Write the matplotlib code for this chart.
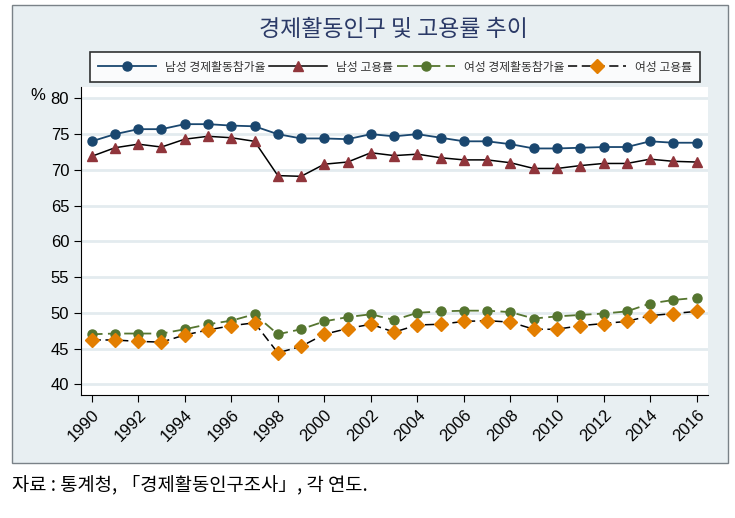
import numpy as np
import matplotlib
matplotlib.use('Agg')
import matplotlib.pyplot as plt
from matplotlib.patches import Rectangle

plt.rcParams['font.family'] = ['Liberation Sans', 'Noto Sans CJK KR', 'DejaVu Sans']

years = list(range(1990, 2017))
male_lfpr = [74.0, 75.0, 75.7, 75.7, 76.4, 76.4, 76.2, 76.1, 75.0, 74.4, 74.4, 74.3, 75.0,
             74.7, 75.0, 74.5, 74.0, 74.0, 73.6, 73.0, 73.0, 73.1, 73.2, 73.2, 74.0, 73.8, 73.8]
male_emp = [71.9, 73.1, 73.6, 73.2, 74.3, 74.7, 74.5, 74.0, 69.2, 69.1, 70.8, 71.1, 72.4,
            72.0, 72.2, 71.7, 71.4, 71.4, 71.0, 70.2, 70.2, 70.6, 70.9, 70.9, 71.5, 71.2, 71.1]
female_lfpr = [47.0, 47.1, 47.1, 47.1, 47.7, 48.4, 48.9, 49.8, 47.0, 47.7, 48.8, 49.4, 49.8,
               49.0, 50.0, 50.2, 50.3, 50.3, 50.1, 49.2, 49.5, 49.7, 49.9, 50.2, 51.3, 51.8, 52.1]
female_emp = [46.2, 46.2, 46.0, 45.9, 46.9, 47.6, 48.2, 48.6, 44.4, 45.3, 47.0, 47.8, 48.4,
              47.3, 48.3, 48.4, 48.8, 48.9, 48.7, 47.7, 47.7, 48.2, 48.5, 48.8, 49.6, 49.9, 50.2]

labels = ['남성 경제활동참가율', '남성 고용률', '여성 경제활동참가율', '여성 고용률']

fig = plt.figure(figsize=(7.35, 5.18), dpi=100)
fig.patch.set_facecolor('white')

# outer graph region (behind the axes)
bg = Rectangle((12/735, 1-463/518), 716/735, 458/518, transform=fig.transFigure,
               facecolor='#e8eff2', edgecolor='#7a8288', lw=1.0, zorder=-10)
fig.add_artist(bg)

ax = fig.add_axes([81/735, 1-395/518, 627/735, 308/518])
ax.set_facecolor('white')

ax.plot(years, male_lfpr, color='#1a476f', lw=1.3, marker='o', ms=6.5, label=labels[0])
ax.plot(years, male_emp, color='black', lw=1.1, marker='^', ms=7.5,
        mfc='#90353b', mec='#90353b', label=labels[1])
ax.plot(years, female_lfpr, color='#55752f', lw=1.3, ls=(0, (6, 3)), marker='o', ms=6.5, label=labels[2])
ax.plot(years, female_emp, color='black', lw=1.1, ls=(0, (6, 3)), marker='D', ms=7,
        mfc='#e37e00', mec='#e37e00', label=labels[3])

ax.set_xlim(1989.54, 2016.49)
ax.set_ylim(38.5, 81.6)
ax.set_yticks(range(40, 81, 5))
ax.set_xticks(range(1990, 2017, 2))
ax.set_xticklabels([str(y) for y in range(1990, 2017, 2)], rotation=45, ha='right',
                   rotation_mode='anchor', fontsize=12)
ax.tick_params(axis='y', labelsize=12, length=5)
ax.tick_params(axis='x', length=5)
ax.grid(axis='y', color='#e3ebef', lw=2)
ax.set_axisbelow(True)
for s in ['top', 'right']:
    ax.spines[s].set_visible(False)

fig.text(0.052, 1-95/518, '%', fontsize=12, ha='center', va='center')

fig.text(393/735, 1-29/518, '경제활동인구 및 고용률 추이', fontsize=16.5, color='#2b3a67',
         ha='center', va='center', family=['Noto Sans CJK KR'])

leg = fig.legend(loc='center', bbox_to_anchor=(395/735, 1-67/518),
                 ncol=4, fontsize=8.5, frameon=True, fancybox=False,
                 edgecolor='black', handlelength=4.9, borderpad=0.7, columnspacing=0.35,
                 handletextpad=0.75)
leg.get_frame().set_linewidth(1.2)
for t in leg.get_texts():
    t.set_family(['Noto Sans CJK KR'])
    t.set_color('#333333')

fig.text(12/735, 1-485/518, '자료 : 통계청, 「경제활동인구조사」, 각 연도.', fontsize=13.5,
         ha='left', va='center', family=['Noto Sans CJK KR'])

fig.savefig('out.png', dpi=100)
